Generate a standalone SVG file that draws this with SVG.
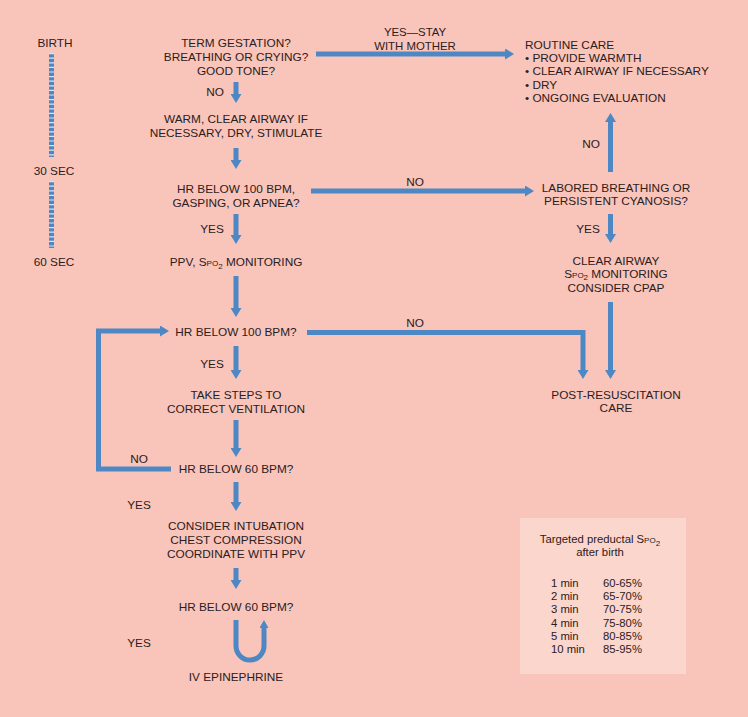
<svg xmlns="http://www.w3.org/2000/svg" width="748" height="717" viewBox="0 0 748 717">
<defs>
<marker id="ah" markerUnits="userSpaceOnUse" markerWidth="10" markerHeight="11" refX="2" refY="5.5" orient="auto">
<path d="M0,0 L9,5.5 L0,11 z" fill="#4d87c4"/>
</marker>
<marker id="ahs" markerUnits="userSpaceOnUse" markerWidth="9" markerHeight="9" refX="2" refY="4.5" orient="auto">
<path d="M0,0 L8,4.5 L0,9 z" fill="#4d87c4"/>
</marker>
</defs>
<style>
text{font-family:"Liberation Sans",Arial,sans-serif;font-size:11.8px;fill:#2b2020}
.c{text-anchor:middle}
.sm{font-size:8px}
.t{font-size:11.3px}
.lb{font-size:11.4px}
.ln{fill:none;stroke:#4d87c4;stroke-width:5}
.ar{marker-end:url(#ah)}
</style>
<rect width="748" height="717" fill="#f9c4ba"/>

<g id="timeline">
<line x1="51.5" y1="53" x2="51.5" y2="157" stroke="#4d87c4" stroke-width="5"/>
<line x1="51.5" y1="53" x2="51.5" y2="157" stroke="#d6e6f4" stroke-width="5" stroke-dasharray="1.2 3.4"/>
<line x1="51.5" y1="181" x2="51.5" y2="248" stroke="#4d87c4" stroke-width="5"/>
<line x1="51.5" y1="181" x2="51.5" y2="248" stroke="#d6e6f4" stroke-width="5" stroke-dasharray="1.2 3.4"/>
<text x="55" y="47" class="c">BIRTH</text>
<text x="54" y="175" class="c">30 SEC</text>
<text x="54" y="266" class="c">60 SEC</text>
</g>

<g id="connectors">
<line class="ln ar" x1="236" y1="82" x2="236" y2="96"/>
<line class="ln ar" x1="236" y1="148" x2="236" y2="162"/>
<line class="ln ar" x1="236" y1="214" x2="236" y2="237"/>
<line class="ln ar" x1="236" y1="276" x2="236" y2="310"/>
<line class="ln ar" x1="236" y1="346" x2="236" y2="372"/>
<line class="ln ar" x1="236" y1="420" x2="236" y2="450"/>
<line class="ln ar" x1="236" y1="482" x2="236" y2="504"/>
<line class="ln ar" x1="236" y1="568" x2="236" y2="582"/>
<path class="ln" d="M236,620 L236,646 A14,14 0 0 0 264,646 L264,626" style="marker-end:url(#ahs)"/>
<path class="ln ar" d="M171,469 L98.5,469 L98.5,331 L162,331"/>
<line class="ln ar" x1="316" y1="54" x2="507" y2="54"/>
<line class="ln ar" x1="311" y1="191" x2="527" y2="191"/>
<line class="ln ar" x1="610.5" y1="172" x2="610.5" y2="120"/>
<line class="ln ar" x1="610.5" y1="214" x2="610.5" y2="236"/>
<line class="ln ar" x1="610.5" y1="302" x2="610.5" y2="372"/>
<path class="ln ar" d="M307,332.5 L583,332.5 L583,372"/>
<text x="415" y="36" class="c lb">YES—STAY</text>
<text x="415" y="49.5" class="c lb">WITH MOTHER</text>
<text x="215" y="96" class="c">NO</text>
<text x="212" y="233" class="c">YES</text>
<text x="415" y="186" class="c">NO</text>
<text x="591" y="148" class="c">NO</text>
<text x="588" y="233" class="c">YES</text>
<text x="415" y="327" class="c">NO</text>
<text x="212" y="368" class="c">YES</text>
<text x="139" y="463" class="c">NO</text>
<text x="139" y="509" class="c">YES</text>
<text x="139" y="647" class="c">YES</text>
</g>

<g id="n-term">
<text x="236" y="47" class="c">TERM GESTATION?</text>
<text x="236" y="61" class="c">BREATHING OR CRYING?</text>
<text x="236" y="75" class="c">GOOD TONE?</text>
</g>
<g id="n-warm">
<text x="236" y="123" class="c">WARM, CLEAR AIRWAY IF</text>
<text x="236" y="137" class="c">NECESSARY, DRY, STIMULATE</text>
</g>
<g id="n-hr100a">
<text x="236" y="193" class="c">HR BELOW 100 BPM,</text>
<text x="236" y="207" class="c">GASPING, OR APNEA?</text>
</g>
<g id="n-ppv">
<text x="236" y="266" class="c">PPV, S<tspan class="sm">PO</tspan><tspan class="sm" dy="2.5">2</tspan><tspan dy="-2.5"> MONITORING</tspan></text>
</g>
<g id="n-hr100b">
<text x="236" y="336" class="c">HR BELOW 100 BPM?</text>
</g>
<g id="n-steps">
<text x="236" y="399" class="c">TAKE STEPS TO</text>
<text x="236" y="413" class="c">CORRECT VENTILATION</text>
</g>
<g id="n-hr60a">
<text x="236" y="473" class="c">HR BELOW 60 BPM?</text>
</g>
<g id="n-intub">
<text x="236" y="530" class="c">CONSIDER INTUBATION</text>
<text x="236" y="544" class="c">CHEST COMPRESSION</text>
<text x="236" y="558" class="c">COORDINATE WITH PPV</text>
</g>
<g id="n-hr60b">
<text x="236" y="611" class="c">HR BELOW 60 BPM?</text>
</g>
<g id="n-epi">
<text x="236" y="681" class="c">IV EPINEPHRINE</text>
</g>
<g id="n-routine">
<text x="525" y="49">ROUTINE CARE</text>
<text x="525" y="62">• PROVIDE WARMTH</text>
<text x="525" y="75">• CLEAR AIRWAY IF NECESSARY</text>
<text x="525" y="89">• DRY</text>
<text x="525" y="102">• ONGOING EVALUATION</text>
</g>
<g id="n-labored">
<text x="616" y="192" class="c">LABORED BREATHING OR</text>
<text x="616" y="205" class="c">PERSISTENT CYANOSIS?</text>
</g>
<g id="n-clear">
<text x="616" y="265" class="c">CLEAR AIRWAY</text>
<text x="616" y="278" class="c">S<tspan class="sm">PO</tspan><tspan class="sm" dy="1.5">2</tspan><tspan dy="-1.5"> MONITORING</tspan></text>
<text x="616" y="292" class="c">CONSIDER CPAP</text>
</g>
<g id="n-post">
<text x="616" y="399" class="c">POST-RESUSCITATION</text>
<text x="616" y="412" class="c">CARE</text>
</g>
<g id="table">
<rect x="520" y="518" width="166" height="156" fill="#fbd6cd"/>
<text x="600" y="543" class="c t">Targeted preductal S<tspan class="sm">PO</tspan><tspan class="sm" dy="3">2</tspan></text>
<text x="600" y="556" class="c t">after birth</text>
<text x="551" y="587" class="t">1 min</text><text x="603" y="587" class="t">60-65%</text>
<text x="551" y="600" class="t">2 min</text><text x="603" y="600" class="t">65-70%</text>
<text x="551" y="613" class="t">3 min</text><text x="603" y="613" class="t">70-75%</text>
<text x="551" y="627" class="t">4 min</text><text x="603" y="627" class="t">75-80%</text>
<text x="551" y="640" class="t">5 min</text><text x="603" y="640" class="t">80-85%</text>
<text x="551" y="653" class="t">10 min</text><text x="603" y="653" class="t">85-95%</text>
</g>
</svg>
